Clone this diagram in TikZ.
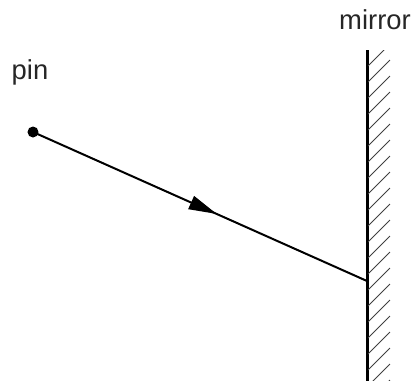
\documentclass[tikz,border=0pt]{standalone}
\usepackage{fontspec}
\setmainfont{Liberation Sans}
\usetikzlibrary{arrows.meta,decorations.markings}
\begin{document}
\begin{tikzpicture}[x=1bp,y=-1bp,
  lbl/.style={font=\fontsize{27.5}{32}\selectfont, text=black!85, inner sep=0pt},
  ray/.style={line width=2bp, postaction={decorate}, decoration={markings, mark=at position 0.55 with {\arrow{Triangle[length=28bp,width=14bp]}}}},
  mirrorline/.style={line width=3bp},
  hatch/.style={line width=0.8bp, black!75}]
\useasboundingbox (0,0) rectangle (414,381);
\node[lbl] (pinlbl) at (30,72) {pin};
\node[lbl] (mirlbl) at (375,20) {mirror};
\fill (33,132) circle (5.5bp);
\coordinate (pin) at (33,132);
\coordinate (hit) at (367,281);
\coordinate (mtop) at (367,50);
\coordinate (mbot) at (367,381);
\draw[ray] (pin) -- (hit);
\draw[mirrorline] (mtop) -- (mbot);
\begin{scope}
\clip (368,50) rectangle (392,381);
\foreach \y in {62,78,...,400} {
  \draw[hatch] (368,\y+4) -- (390,\y-18);
}
\end{scope}
\end{tikzpicture}
\end{document}
